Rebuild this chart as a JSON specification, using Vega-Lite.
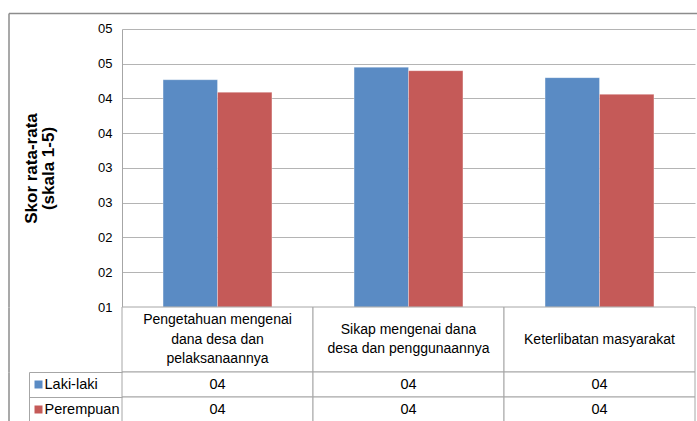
{
  "$schema": "https://vega.github.io/schema/vega-lite/v6.json",
  "autosize": {"type": "pad"},
  "padding": {"left": 7, "top": 12, "right": 0, "bottom": 0},
  "background": "#ffffff",
  "config": {
    "font": "Liberation Sans",
    "view": {"stroke": null},
    "axis": {"labelColor": "#000000", "titleColor": "#000000"}
  },
  "datasets": {
    "scores": [
      {"kategori": "Pengetahuan", "jenis": "Laki-laki", "skor": 4.27},
      {"kategori": "Pengetahuan", "jenis": "Perempuan", "skor": 4.09},
      {"kategori": "Sikap", "jenis": "Laki-laki", "skor": 4.45},
      {"kategori": "Sikap", "jenis": "Perempuan", "skor": 4.40},
      {"kategori": "Keterlibatan", "jenis": "Laki-laki", "skor": 4.30},
      {"kategori": "Keterlibatan", "jenis": "Perempuan", "skor": 4.06}
    ],
    "cats": [
      {"kategori": "Pengetahuan", "label": "Pengetahuan mengenai\ndana desa dan\npelaksanaannya"},
      {"kategori": "Sikap", "label": "Sikap mengenai dana\ndesa dan penggunaannya"},
      {"kategori": "Keterlibatan", "label": "Keterlibatan masyarakat"}
    ]
  },
  "spacing": 0,
  "bounds": "flush",
  "resolve": {"scale": {"x": "independent", "y": "independent", "color": "shared"}},
  "vconcat": [
    {
      "width": 573,
      "height": 294,
      "data": {"name": "scores"},
      "resolve": {"axis": {"y": "independent"}},
      "encoding": {
        "x": {
          "field": "kategori", "type": "nominal",
          "sort": ["Pengetahuan", "Sikap", "Keterlibatan"],
          "scale": {"paddingInner": 0.43, "paddingOuter": 0.215},
          "axis": null
        },
        "xOffset": {"field": "jenis", "type": "nominal", "sort": ["Laki-laki", "Perempuan"], "scale": {"paddingInner": 0, "paddingOuter": 0}},
        "y2": {"datum": 1},
        "color": {
          "field": "jenis", "type": "nominal",
          "scale": {"domain": ["Laki-laki", "Perempuan"], "range": ["#5A8BC4", "#C55A58"]},
          "legend": null
        }
      },
      "layer": [
        {
          "mark": {"type": "bar", "stroke": "#ffffff", "strokeWidth": 0.6, "strokeOpacity": 0.5},
          "encoding": {
            "y": {
              "field": "skor", "type": "quantitative",
              "scale": {"domain": [1, 5.2302], "nice": false, "zero": false},
              "axis": {
                "orient": "left",
                "values": [1, 1.5, 2, 2.5, 3, 3.5, 4, 4.5, 5],
                "format": "02.0f",
                "labelFontSize": 13,
                "labelPadding": 10,
                "tickSize": 0,
                "domainColor": "#a6a6a6",
                "domainDash": [278, 16],
                "gridColor": "#b4b4b4",
                "title": ["Skor rata-rata", "(skala 1-5)"],
                "titleFontSize": 17,
                "titleFontWeight": "bold",
                "titleLineHeight": 17,
                "titlePadding": 40,
                "titleY": 155
              }
            }
          }
        },
        {
          "mark": {"type": "bar", "opacity": 0},
          "encoding": {
            "y": {
              "field": "skor", "type": "quantitative",
              "axis": {
                "orient": "left",
                "title": null,
                "offset": 113.5,
                "values": [5.2302],
                "tickSize": -689.5,
                "tickWidth": 1.5,
                "tickColor": "#8c8c8c",
                "domainColor": "#8c8c8c",
                "domainWidth": 1.5,
                "labels": false,
                "grid": false
              }
            }
          }
        }
      ]
    },
    {
      "width": 573,
      "height": 65,
      "data": {"name": "cats"},
      "layer": [
        {
          "mark": {"type": "rect", "fill": "#ffffff", "stroke": "#a6a6a6", "strokeWidth": 1},
          "encoding": {
            "x": {"field": "kategori", "type": "nominal", "sort": ["Pengetahuan", "Sikap", "Keterlibatan"], "scale": {"paddingInner": 0, "paddingOuter": 0}, "axis": null},
            "y": {
              "datum": "baris", "type": "nominal",
              "scale": {"paddingInner": 0, "paddingOuter": 0},
              "axis": {
                "orient": "left",
                "title": null,
                "offset": 113.5,
                "labels": false,
                "ticks": false,
                "grid": false,
                "domainColor": "#8c8c8c",
                "domainWidth": 1.5
              }
            }
          }
        },
        {
          "mark": {
            "type": "text", "fontSize": 14, "lineHeight": 19.5, "lineBreak": "\n", "color": "#000000", "baseline": "middle",
            "dy": {"expr": "-(length(split(datum.label, '\\n')) - 1) * 9.75"}
          },
          "encoding": {
            "x": {"field": "kategori", "type": "nominal", "sort": ["Pengetahuan", "Sikap", "Keterlibatan"], "axis": null},
            "text": {"field": "label"}
          }
        }
      ]
    },
    {
      "width": 573,
      "height": 50,
      "data": {"name": "scores"},
      "resolve": {"axis": {"y": "independent"}},
      "encoding": {
        "x": {"field": "kategori", "type": "nominal", "sort": ["Pengetahuan", "Sikap", "Keterlibatan"], "scale": {"paddingInner": 0, "paddingOuter": 0}, "axis": null}
      },
      "layer": [
        {
          "mark": {"type": "rect", "fill": "#ffffff", "stroke": "#a6a6a6", "strokeWidth": 1},
          "encoding": {
            "y": {
              "field": "jenis", "type": "nominal", "sort": ["Laki-laki", "Perempuan"],
              "scale": {"paddingInner": 0, "paddingOuter": 0},
              "axis": {
                "orient": "left",
                "title": null,
                "offset": 93,
                "tickBand": "extent",
                "tickSize": -93,
                "tickColor": "#a6a6a6",
                "domainColor": "#a6a6a6",
                "labelAlign": "left",
                "labelBaseline": "middle",
                "labelPadding": 78,
                "labelFontSize": 14.5,
                "grid": false
              }
            }
          }
        },
        {
          "mark": {"type": "text", "fontSize": 14.5, "color": "#000000", "baseline": "middle"},
          "encoding": {
            "y": {
              "field": "jenis", "type": "nominal", "sort": ["Laki-laki", "Perempuan"],
              "axis": {
                "orient": "left",
                "title": null,
                "offset": 80,
                "tickSize": 8,
                "tickWidth": 8,
                "tickCap": "butt",
                "tickColor": {"condition": {"test": "datum.value === 'Laki-laki'", "value": "#5A8BC4"}, "value": "#C55A58"},
                "labels": false,
                "domain": false,
                "grid": false
              }
            },
            "text": {"field": "skor", "type": "quantitative", "format": "02.0f"}
          }
        },
        {
          "mark": {"type": "rect", "opacity": 0},
          "encoding": {
            "y": {
              "field": "jenis", "type": "nominal", "sort": ["Laki-laki", "Perempuan"],
              "axis": {
                "orient": "left",
                "title": null,
                "offset": 113.5,
                "labels": false,
                "ticks": false,
                "grid": false,
                "domainColor": "#8c8c8c",
                "domainWidth": 1.5
              }
            }
          }
        }
      ]
    }
  ]
}
